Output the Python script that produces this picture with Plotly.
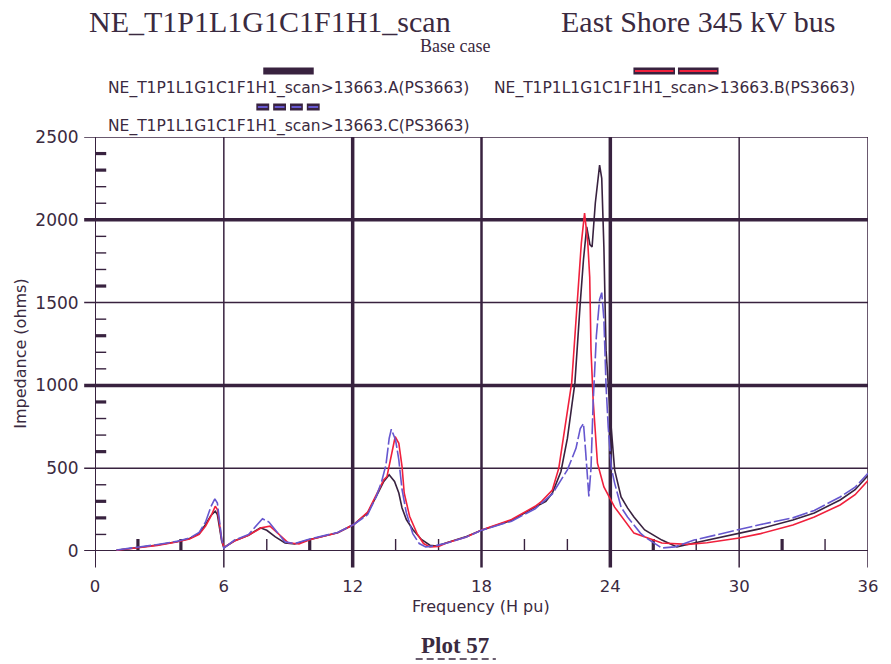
import plotly.graph_objects as go

# ---------------- data ----------------
freq_a = [1.0, 1.8, 2.9, 3.8, 4.4, 4.85, 5.15, 5.4, 5.6, 5.7, 5.8, 5.9, 6.0, 6.5, 7.15, 7.7, 8.0, 8.4,
          8.85, 9.3, 10.0, 11.3, 12.05, 12.7, 13.1, 13.45, 13.7, 13.95, 14.15, 14.3, 14.5, 14.8, 15.2,
          15.6, 15.9, 16.4, 17.3, 18.0, 19.4, 20.5, 21.0, 21.3, 21.7, 22.0, 22.35, 22.6, 22.75, 22.9,
          23.05, 23.15, 23.3, 23.5, 23.6, 23.7, 23.8, 24.0, 24.2, 24.5, 24.8, 25.1, 25.6, 26.4, 27.1,
          27.9, 29.0, 30.0, 31.0, 32.5, 33.5, 34.7, 35.4, 36.0]
imp_a = [5, 18, 36, 56, 76, 105, 160, 215, 240, 220, 140, 60, 20, 62, 95, 140, 125, 85,
         48, 42, 70, 110, 160, 230, 330, 420, 460, 420, 350, 260, 190, 130, 70,
         35, 30, 52, 88, 125, 185, 265, 300, 350, 480, 680, 1015, 1500, 1760, 1957,
         1850, 1836, 2100, 2330, 2250, 1836, 1213, 810, 490, 326, 260, 205, 127, 66, 25,
         48, 80, 108, 135, 187, 230, 308, 370, 455]

freq_b = [1.0, 1.8, 2.9, 3.8, 4.4, 4.85, 5.15, 5.4, 5.6, 5.7, 5.8, 5.9, 6.0, 6.5, 7.15, 7.75, 8.15, 8.5,
          9.0, 9.5, 10.0, 11.3, 12.05, 12.7, 13.1, 13.45, 13.6, 13.83, 13.98, 14.15, 14.3, 14.4, 14.65,
          15.0, 15.3, 15.6, 16.0, 16.4, 17.3, 18.0, 19.4, 20.5, 20.8, 21.3, 21.6, 22.2, 22.45, 22.65,
          22.8, 22.95, 23.04, 23.1, 23.2, 23.4, 23.7, 24.2, 25.1, 26.4, 27.6, 28.5, 30.0, 31.0, 32.5,
          33.5, 34.7, 35.4, 36.0]
imp_b = [5, 16, 34, 54, 72, 100, 150, 210, 270, 250, 170, 70, 22, 60, 95, 140, 150, 110,
         50, 42, 68, 110, 160, 235, 340, 430, 450, 610, 690, 650, 510, 350, 210,
         105, 45, 25, 28, 50, 85, 127, 190, 270, 300, 368, 500, 1015, 1500, 1860,
         2040, 1860, 1654, 1213, 910, 530, 387, 265, 108, 48, 40, 50, 78, 105, 157,
         205, 278, 340, 425]

freq_c = [1.0, 1.75, 2.85, 3.8, 4.4, 4.85, 5.15, 5.4, 5.58, 5.7, 5.8, 5.9, 6.0, 6.5, 7.15, 7.5, 7.8, 8.1,
          8.4, 8.85, 9.3, 10.0, 11.3, 12.05, 12.7, 13.1, 13.35, 13.55, 13.7, 13.8, 14.0, 14.15, 14.3,
          14.5, 14.8, 15.1, 15.4, 15.8, 16.4, 17.3, 18.0, 19.4, 20.5, 21.3, 22.0, 22.4, 22.6, 22.75,
          22.85, 22.95, 23.0, 23.1, 23.2, 23.35, 23.5, 23.6, 23.7, 23.8, 23.9, 24.05, 24.2, 24.5, 24.8,
          25.4, 25.6, 26.4, 27.0, 27.9, 29.0, 30.0, 31.0, 32.5, 33.5, 34.7, 35.4, 36.0]
imp_c = [6, 18, 38, 58, 78, 112, 175, 268, 315, 290, 180, 70, 18, 66, 100, 150, 195, 175,
         125, 55, 45, 72, 112, 160, 220, 330, 420, 520, 680, 735, 670, 550, 370,
         230, 105, 45, 25, 30, 48, 85, 125, 180, 255, 345, 490, 620, 740, 770,
         600, 400, 330, 500, 900, 1300, 1520, 1560, 1400, 1000, 750, 500, 410, 265, 205,
         108, 85, 18, 25, 66, 100, 127, 160, 200, 245, 326, 385, 470]

series_names = ["NE_T1P1L1G1C1F1H1_scan>13663.A(PS3663)",
                "NE_T1P1L1G1C1F1H1_scan>13663.B(PS3663)",
                "NE_T1P1L1G1C1F1H1_scan>13663.C(PS3663)"]

x_ticks = [0, 6, 12, 18, 24, 30, 36]
y_ticks = [0, 500, 1000, 1500, 2000, 2500]
x_minor = [2, 4, 8, 10, 14, 16, 20, 22, 26, 28, 32, 34]
x_minor_thick = [2, 4, 10, 26, 32]
y_minor = [v for v in range(100, 2500, 100) if v % 500]
y_minor_thick = [200, 300, 600, 900, 1300, 1600, 2300, 2400]

# ---------------- style ----------------
DARK = "#38223f"
RED = "#f0203c"
BLUE = "#6657cf"
TXT = "#3a2a40"
SANS = "DejaVu Sans"
SERIF = "Liberation Serif"

fig = go.Figure()
fig.add_trace(go.Scatter(x=freq_a, y=imp_a, mode="lines", name=series_names[0],
                         line=dict(color=DARK, width=1.6)))
fig.add_trace(go.Scatter(x=freq_b, y=imp_b, mode="lines", name=series_names[1],
                         line=dict(color=RED, width=1.6)))
fig.add_trace(go.Scatter(x=freq_c, y=imp_c, mode="lines", name=series_names[2],
                         line=dict(color=BLUE, width=1.6, dash="16px,3px")))

shapes = []
# horizontal grid lines (extend left of the axis like ticks)
for v in y_ticks:
    w = 3.5 if v in (1000, 2000) else (2 if v == 0 else 1.5)
    shapes.append(dict(type="line", xref="paper", yref="y", x0=-0.014, x1=1, y0=v, y1=v,
                       line=dict(color=DARK, width=w), layer="below"))
# vertical grid lines (extend below the x axis)
for v in x_ticks:
    w = 3.5 if v in (12, 24) else (2.5 if v == 18 else (2 if v == 0 else 1.5))
    shapes.append(dict(type="line", xref="x", yref="paper", x0=v, x1=v, y0=-0.04, y1=1,
                       line=dict(color=DARK, width=w), layer="below"))
# minor y ticks
for v in y_minor:
    w = 3.2 if v in y_minor_thick else 1.4
    shapes.append(dict(type="line", xref="paper", yref="y", x0=0, x1=0.0145, y0=v, y1=v,
                       line=dict(color=DARK, width=w), layer="below"))
# minor x ticks
for v in x_minor:
    w = 3.2 if v in x_minor_thick else 1.4
    shapes.append(dict(type="line", xref="x", yref="paper", x0=v, x1=v, y0=0, y1=0.029,
                       line=dict(color=DARK, width=w), layer="below"))


def px2paper(px, py):
    return (px - 95) / 781.0, (551 - py) / 414.0


def swatch(x0px, x1px, ypx, color):
    xa, ya = px2paper(x0px, ypx)
    xb, _ = px2paper(x1px, ypx)
    shapes.append(dict(type="line", xref="paper", yref="paper", x0=xa, x1=xb, y0=ya, y1=ya,
                       line=dict(color=DARK, width=7)))
    if color is not None:
        shapes.append(dict(type="line", xref="paper", yref="paper", x0=xa + 0.002, x1=xb - 0.002,
                           y0=ya, y1=ya, line=dict(color=color, width=2)))


# legend swatches
swatch(265, 316, 71, None)
swatch(639, 681, 71, RED)
swatch(684, 725, 71, RED)
for s in (258, 275, 292, 309):
    swatch(s, s + 13, 107, BLUE)

# dashed underline of "Plot 57"
ux0, uy = px2paper(419, 659)
ux1, _ = px2paper(500, 659)
shapes.append(dict(type="line", xref="paper", yref="paper", x0=ux0, x1=ux1, y0=uy, y1=uy,
                   line=dict(color=TXT, width=1.6, dash="7px,4px")))

annotations = []


def text(s, px, py, size, family, rot=0, bold=False):
    xp, yp = px2paper(px, py)
    annotations.append(dict(text=("<b>%s</b>" % s) if bold else s, x=xp, y=yp, xref="paper",
                            yref="paper", showarrow=False, textangle=rot,
                            xanchor="center", yanchor="middle",
                            font=dict(family=family, size=size, color=TXT)))


text("NE_T1P1L1G1C1F1H1_scan", 272, 21, 30, SERIF)
text("East Shore 345 kV bus", 704, 21, 30, SERIF)
text("Base case", 459, 46, 18, SERIF)
text(series_names[0], 290, 89, 15.5, SANS)
text(series_names[1], 681, 89, 15.5, SANS)
text(series_names[2], 290, 127, 15.5, SANS)
text("Frequency (H pu)", 485, 606, 16, SANS)
text("Impedance (ohms)", 19, 354, 16, SANS, rot=-90)
text("Plot 57", 459, 645, 23, SERIF, bold=True)

fig.update_layout(
    width=891, height=664, autosize=False,
    margin=dict(l=95, r=15, t=137, b=113, pad=0),
    paper_bgcolor="white", plot_bgcolor="white",
    showlegend=False,
    shapes=shapes, annotations=annotations,
    xaxis=dict(range=[0, 36], tickvals=x_ticks, ticktext=[str(v) for v in x_ticks],
               showgrid=False, zeroline=False, showline=False,
               ticks="outside", ticklen=20, tickcolor="rgba(0,0,0,0)",
               tickfont=dict(family=SANS, size=16.5, color=TXT)),
    yaxis=dict(range=[0, 2500], tickvals=y_ticks, ticktext=[str(v) for v in y_ticks],
               showgrid=False, zeroline=False, showline=False,
               ticks="outside", ticklen=12, tickcolor="rgba(0,0,0,0)",
               tickfont=dict(family=SANS, size=17, color=TXT)),
)

fig.write_html("out.html")
